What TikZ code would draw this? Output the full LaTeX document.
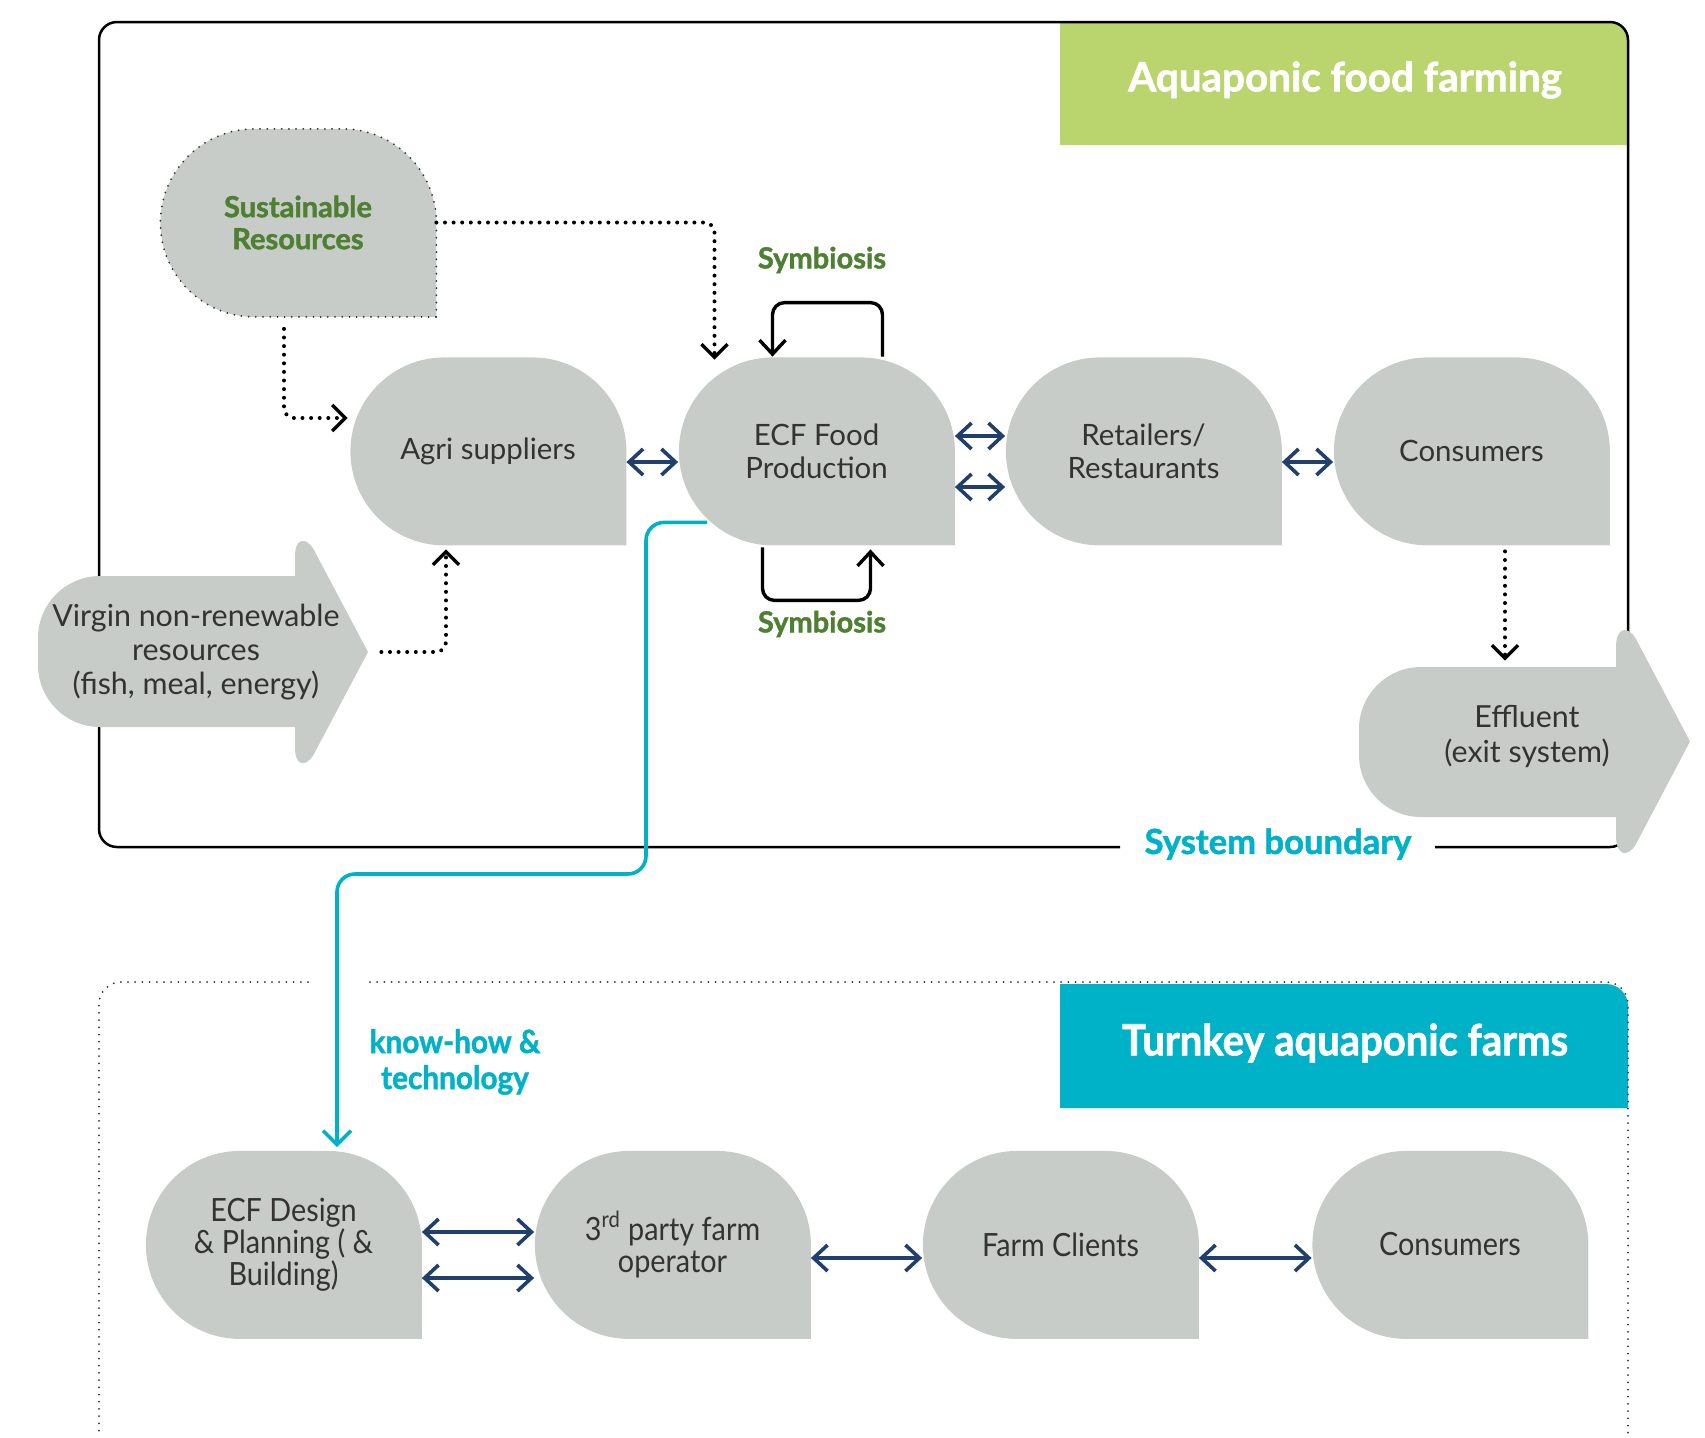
\documentclass[tikz,border=0pt]{standalone}
\usepackage{fontspec}
\setmainfont{Lato}
\newfontfamily\condfont[FakeStretch=0.9]{Lato}
\newfontfamily\heavyfont[BoldFeatures={FakeBold=1.5}]{Lato}
\newfontfamily\heavycond[FakeStretch=0.93, BoldFeatures={FakeBold=1.5}]{Lato}
\usetikzlibrary{arrows.meta,backgrounds}

\definecolor{blobgray}{HTML}{C8CCC8}
\definecolor{txtgray}{HTML}{333333}
\definecolor{moss}{HTML}{4E7F33}
\definecolor{leaf}{HTML}{BAD46E}
\definecolor{aqua}{HTML}{00B2C8}
\definecolor{arrowblue}{HTML}{213F6B}

% drop shaped blob: three round corners, square bottom right
\newcommand{\blobpath}[1]{(#1.south east) -- ++(0,94) arc[start angle=0,end angle=90,radius=94] -- ++(-88,0) arc[start angle=90,end angle=270,radius=94] -- cycle}

\begin{document}
\begin{tikzpicture}[x=0.5pt, y=0.5pt,
	blob/.style={minimum width=138pt, minimum height=94pt, inner sep=0pt, align=center, text=txtgray, font=\fontsize{14.7}{16.3}\selectfont},
	lowblob/.style={blob, font=\condfont\fontsize{16}{16}\selectfont},
	flow/.style={line width=2pt, dash pattern=on 0pt off 4.3pt, line cap=round, rounded corners=5pt, -{Straight Barb[length=6.5pt,width=13pt,line width=1.7pt]}},
	finedots/.style={txtgray, line width=1pt, dash pattern=on 0pt off 3.6pt, line cap=round},
	twoway/.style={arrowblue, line width=1.8pt, {Straight Barb[length=7pt,width=13pt]}-{Straight Barb[length=7pt,width=13pt]}},
	loopline/.style={line width=1.7pt, rounded corners=6pt, -{Straight Barb[length=7pt,width=13pt]}},
	know/.style={aqua, line width=1.8pt, rounded corners=9pt, -{Straight Barb[length=7pt,width=14pt]}},
	greenlabel/.style={text=moss, font=\heavyfont\bfseries\fontsize{14.5}{17}\selectfont}]

	\useasboundingbox (0,0) rectangle (1705,-1437);

	% upper system: resources, chain and effluent
	\node[blob, text=moss, font=\heavyfont\bfseries\fontsize{14.5}{16}\selectfont] (sust) at (298,-222.5) {Sustainable\\Resources};
	\node[blob] (agri) at (488,-451) {Agri suppliers};
	\node[blob] (ecf) at (816.5,-451) {ECF Food\\Production};
	\node[blob] (retail) at (1143.5,-451) {Retailers/\\Restaurants};
	\node[blob] (cons) at (1471.5,-451) {Consumers};
	\node[minimum width=158pt, minimum height=75pt, inner sep=0pt, align=center, text=txtgray, font=\fontsize{15.2}{17}\selectfont] (virgin) at (196,-652) {Virgin non-renewable\\resources\\(fish, meal, energy)};
	\node[minimum width=165pt, minimum height=75pt, inner sep=0pt, align=center, text=txtgray, font=\fontsize{15.2}{17.5}\selectfont] (effl) at (1527,-736) {Effluent\\(exit system)};

	\node[text=white, font=\heavyfont\bfseries\fontsize{20.2}{24}\selectfont] (farmhead) at (1345,-80) {Aquaponic food farming};
	\node[greenlabel] (symtop) at (822,-260) {Symbiosis};
	\node[greenlabel] (symbot) at (822,-624) {Symbiosis};
	\node[text=aqua, font=\heavyfont\bfseries\fontsize{17.3}{20}\selectfont] (sysb) at (1278,-844) {System boundary};

	% turnkey farms
	\node[text=white, font=\heavycond\bfseries\fontsize{21.5}{25}\selectfont] (turnhead) at (1345,-1043) {Turnkey aquaponic farms};
	\node[text=aqua, align=center, font=\heavycond\bfseries\fontsize{16}{18}\selectfont] (knowhow) at (455,-1062) {know-how \&\\technology};
	\node[lowblob] (design) at (283.5,-1244.5) {ECF Design\\\& Planning ( \&\\Building)};
	\node[lowblob] (third) at (672.5,-1244.5) {3\textsuperscript{rd} party farm\\operator};
	\node[lowblob] (clients) at (1060.5,-1244.5) {Farm Clients};
	\node[lowblob] (cons2) at (1450,-1244.5) {Consumers};

	\begin{scope}[on background layer]
		\fill[leaf] (1060,-145) -- (1060,-22) -- (1610,-22) arc[start angle=90,end angle=0,radius=18] -- (1628,-145) -- cycle;
		\draw[line width=1.25pt, rounded corners=9pt] (1120,-847) -- (99,-847) -- (99,-22) -- (1628,-22) -- (1628,-847) -- (1435,-847);
		% input and output arrows
		\fill[blobgray] (295,-576) -- (100,-576) arc[start angle=90,end angle=180,radius=62] -- (38,-665) arc[start angle=180,end angle=270,radius=62] -- (295,-727) -- (295,-748) .. controls (295,-766) and (306,-768) .. (314,-754) -- (368,-652) -- (314,-550) .. controls (306,-536) and (295,-538) .. (295,-556) -- cycle;
		\fill[blobgray] (1616,-667) -- (1421,-667) arc[start angle=90,end angle=180,radius=62] -- (1359,-755) arc[start angle=180,end angle=270,radius=62] -- (1616,-817) -- (1616,-836) .. controls (1616,-856) and (1628,-858) .. (1636,-844) -- (1690,-741.5) -- (1636,-639) .. controls (1628,-625) and (1616,-627) .. (1616,-647) -- cycle;
		\foreach \n in {agri,ecf,retail,cons,design,third,clients,cons2}
			\fill[blobgray] \blobpath{\n};
		\fill[blobgray] \blobpath{sust};
		\draw[finedots] \blobpath{sust};
		% lower box, open at the bottom
		\fill[aqua] (1060,-1108) -- (1060,-984) -- (1606,-984) arc[start angle=90,end angle=0,radius=22] -- (1628,-1108) -- cycle;
		\draw[finedots, rounded corners=11pt] (308,-982) -- (99,-982) -- (99,-1437);
		\draw[finedots, rounded corners=11pt] (370,-982) -- (1628,-982) -- (1628,-1437);
	\end{scope}

	% flows
	\draw[flow] (sust.east) -| ([xshift=-51pt,yshift=-1.5pt]ecf.north);
	\draw[flow] ([xshift=-7pt,yshift=-6pt]sust.south) |- ([xshift=-1pt,yshift=16.5pt]agri.west);
	\draw[flow] ([xshift=13.5pt]virgin.east) -| ([xshift=-21pt,yshift=-2pt]agri.south);
	\draw[flow] ([xshift=16.75pt,yshift=-3pt]cons.south) -- ([xshift=-11pt]effl.north);

	\draw[twoway] ([yshift=-5.5pt]agri.east) -- ([yshift=-5.5pt]ecf.west);
	\draw[twoway] ([yshift=7.5pt]ecf.east) -- ([yshift=7.5pt]retail.west);
	\draw[twoway] ([yshift=-18pt]ecf.east) -- ([yshift=-18pt]retail.west);
	\draw[twoway] ([yshift=-5.5pt]retail.east) -- ([yshift=-5.5pt]cons.west);

	\draw[loopline] ([xshift=33pt]ecf.north) -- ++(0,54) -| ([xshift=-22pt]ecf.north);
	\draw[loopline] ([xshift=-27pt,yshift=-1pt]ecf.south) -- ++(0,-53) -| ([xshift=27pt,yshift=-2pt]ecf.south);

	\draw[know] ([xshift=14.5pt,yshift=11.5pt]ecf.south west) -| (646,-874) -| ([xshift=26.75pt,yshift=1.5pt]design.north);

	\draw[twoway] ([yshift=6.25pt]design.east) -- ([yshift=6.25pt]third.west);
	\draw[twoway] ([yshift=-16.75pt]design.east) -- ([yshift=-16.75pt]third.west);
	\draw[twoway] ([yshift=-6.75pt]third.east) -- ([yshift=-6.75pt]clients.west);
	\draw[twoway] ([yshift=-6.75pt]clients.east) -- ([yshift=-6.75pt]cons2.west);
\end{tikzpicture}
\end{document}
